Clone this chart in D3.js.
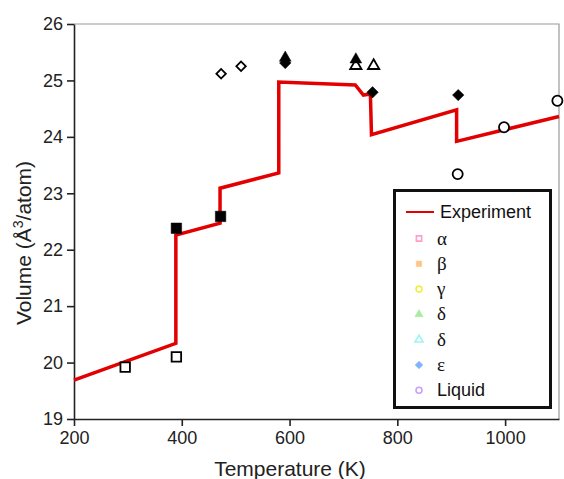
<!DOCTYPE html>
<html>
<head>
<meta charset="utf-8">
<script src="https://cdn.jsdelivr.net/npm/d3@7"></script>
<style>
  body { margin: 0; background: #fff; }
  text { font-family: "Liberation Sans", Arial, sans-serif; }
</style>
</head>
<body>
<svg id="chart"></svg>
<script>
// experiment curve (red line)
var expT = [200, 389, 389, 471, 471, 580, 580, 722, 737, 750, 752, 910, 910, 1100]
var expV = [19.69, 20.34, 22.26, 22.47, 23.09, 23.36, 24.97, 24.92, 24.74, 24.76, 24.04, 24.48, 23.92, 24.36]

// calculated phases
var alphaT = [295, 390],        alphaV = [19.92, 20.1]
var betaT = [390, 472],         betaV = [22.38, 22.59]
var gammaT = [473, 510],        gammaV = [25.12, 25.25]
var deltaT = [592, 723],        deltaV = [25.4, 25.37]
var delta2T = [723, 756],       delta2V = [25.26, 25.26]
var epsT = [592, 754, 913],     epsV = [25.31, 24.79, 24.74]
var liqT = [912, 998, 1097],    liqV = [23.34, 24.17, 24.64]

var xTicks = [200, 400, 600, 800, 1000]
var yTicks = [19, 20, 21, 22, 23, 24, 25, 26]

var width = 564, height = 479
var margin = {top: 24, right: 5, bottom: 60, left: 74}

var svg = d3.select("#chart")
    .attr("width", width)
    .attr("height", height)

var x = d3.scaleLinear().domain([200, 1100]).range([margin.left, width - margin.right])
var y = d3.scaleLinear().domain([19, 26]).range([height - margin.bottom, margin.top])

// top & right frame (grey)
svg.append("path")
    .attr("d", `M${x(200)},${y(26)}H${x(1100)}V${y(19)}`)
    .attr("fill", "none")
    .attr("stroke", "#999")
    .attr("stroke-width", 1.2)

var xAxis = svg.append("g")
    .attr("transform", `translate(0,${y(19)})`)
    .call(d3.axisBottom(x).tickValues(xTicks).tickFormat(d3.format("d"))
      .tickSize(7).tickSizeOuter(0).tickPadding(5))
var yAxis = svg.append("g")
    .attr("transform", `translate(${x(200)},0)`)
    .call(d3.axisLeft(y).tickValues(yTicks).tickFormat(d3.format("d"))
      .tickSize(7).tickSizeOuter(0).tickPadding(4))

;[xAxis, yAxis].forEach(g => {
  g.select(".domain").attr("stroke", "#222").attr("stroke-width", 1.6)
  g.selectAll(".tick line").attr("stroke", "#222").attr("stroke-width", 1.6)
  g.selectAll(".tick text").attr("font-size", 18).attr("fill", "#222")
    .style("font-family", "'Liberation Sans', Arial, sans-serif")
})

// axis titles
svg.append("text")
    .attr("x", 290)
    .attr("y", 476)
    .attr("text-anchor", "middle")
    .attr("font-size", 21)
    .attr("fill", "#222")
    .text("Temperature (K)")

var yl = svg.append("text")
    .attr("transform", "translate(31,243) rotate(-90)")
    .attr("text-anchor", "middle")
    .attr("font-size", 21)
    .attr("fill", "#222")
yl.append("tspan").text("Volume (Å")
yl.append("tspan").attr("font-size", 14).attr("dy", -8).text("3")
yl.append("tspan").attr("dy", 8).text("/atom)")

// experiment line
var line = d3.line().x(d => x(d[0])).y(d => y(d[1]))
svg.append("path")
    .datum(expT.map((t, i) => [t, expV[i]]))
    .attr("d", line)
    .attr("fill", "none")
    .attr("stroke", "#e30000")
    .attr("stroke-width", 3.5)
    .attr("stroke-linejoin", "miter")

// markers
var series = [
  {T: alphaT, V: alphaV, type: d3.symbolSquare, size: 90, fill: false, rot: 0},
  {T: betaT, V: betaV, type: d3.symbolSquare, size: 110, fill: true, rot: 0},
  {T: gammaT, V: gammaV, type: d3.symbolSquare, size: 45, fill: false, rot: 45},
  {T: delta2T, V: delta2V, type: d3.symbolTriangle, size: 55, fill: false, rot: 0},
  {T: epsT, V: epsV, type: d3.symbolSquare, size: 65, fill: true, rot: 45},
  {T: deltaT, V: deltaV, type: d3.symbolTriangle, size: 60, fill: true, rot: 0},
  {T: liqT, V: liqV, type: d3.symbolCircle, size: 80, fill: false, rot: 0}
]

series.forEach(s => {
  svg.append("g").selectAll("path")
    .data(s.T.map((t, i) => [t, s.V[i]]))
    .join("path")
      .attr("transform", d => `translate(${x(d[0])},${y(d[1])}) rotate(${s.rot})`)
      .attr("d", d3.symbol().type(s.type).size(s.size))
      .attr("fill", s.fill ? "#000" : "#fff")
      .attr("stroke", "#000")
      .attr("stroke-width", s.fill ? 0.5 : 1.8)
})

// legend
var legendNames = ["α", "β", "γ", "δ", "δ", "ε", "Liquid"]
var legendColors = ["#ff9ec8", "#ffc48a", "#f2ee40", "#a8eca0", "#9ef4f4", "#7fb2ff", "#c7a0ff"]
var legendTypes = [d3.symbolSquare, d3.symbolSquare, d3.symbolCircle, d3.symbolTriangle, d3.symbolTriangle, d3.symbolSquare, d3.symbolCircle]
var legendFill = [false, true, false, true, false, true, false]
var legendRot = [0, 0, 0, 0, 0, 45, 0]

var lg = svg.append("g")
lg.append("rect")
    .attr("x", 394.5).attr("y", 190.5)
    .attr("width", 156).attr("height", 217)
    .attr("fill", "#fff")
    .attr("stroke", "#111")
    .attr("stroke-width", 3)

lg.append("line")
    .attr("x1", 406).attr("x2", 434)
    .attr("y1", 212).attr("y2", 212)
    .attr("stroke", "#e30000").attr("stroke-width", 2)
lg.append("text")
    .attr("x", 440).attr("y", 218)
    .attr("font-size", 18).attr("fill", "#111")
    .text("Experiment")

legendNames.forEach((n, i) => {
  var yy = 238.5 + i * 25.3
  lg.append("path")
    .attr("transform", `translate(419,${yy}) rotate(${legendRot[i]})`)
    .attr("d", d3.symbol().type(legendTypes[i]).size(legendFill[i] ? 30 : 28))
    .attr("fill", legendFill[i] ? legendColors[i] : "#fff")
    .attr("stroke", legendColors[i])
    .attr("stroke-width", legendFill[i] ? 0.5 : 1.6)
  lg.append("text")
    .attr("x", 437).attr("y", yy + 6)
    .attr("font-size", n === "Liquid" ? 18 : 19).attr("fill", "#111")
    .style("font-family", n === "Liquid" ? "'Liberation Sans', Arial, sans-serif" : "'Liberation Serif', 'Times New Roman', serif")
    .text(n)
})
</script>
</body>
</html>
